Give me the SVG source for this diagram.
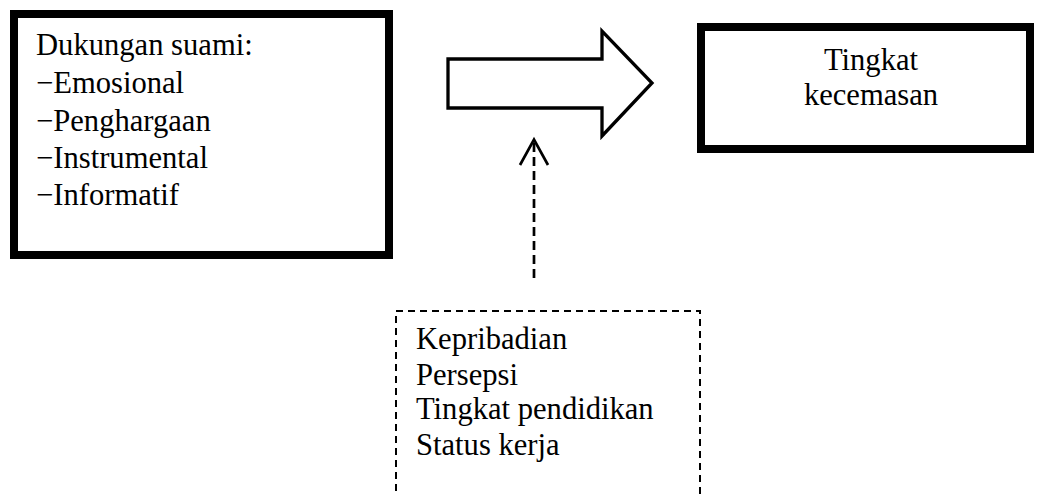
<svg xmlns="http://www.w3.org/2000/svg" width="1038" height="494" viewBox="0 0 1038 494">
<style>
.t{font-family:"Liberation Serif","Times New Roman",serif;font-size:30.6px;fill:#000}
.box{fill:#fff;stroke:#000;stroke-width:8}
.dbox{fill:none;stroke:#000;stroke-width:2;stroke-dasharray:7 5}
</style>
<rect width="1038" height="494" fill="#fff"/>
<g id="node-dukungan">
<rect class="box" x="14" y="14" width="375" height="241"/>
<text class="t" x="36" y="55">Dukungan suami:</text>
<text class="t" x="36" y="93">−Emosional</text>
<text class="t" x="36" y="131">−Penghargaan</text>
<text class="t" x="36" y="168">−Instrumental</text>
<text class="t" x="36" y="205">−Informatif</text>
</g>
<g id="node-kecemasan">
<rect class="box" x="701" y="27" width="329" height="122"/>
<text class="t" x="871" y="70" text-anchor="middle">Tingkat</text>
<text class="t" x="871" y="105" text-anchor="middle">kecemasan</text>
</g>
<g id="node-faktor">
<rect class="dbox" x="396" y="311" width="304" height="200"/>
<text class="t" x="416" y="349">Kepribadian</text>
<text class="t" x="416" y="385">Persepsi</text>
<text class="t" x="416" y="419">Tingkat pendidikan</text>
<text class="t" x="416" y="455">Status kerja</text>
</g>
<g id="connectors">
<polygon points="448,59 602,59 602,31 652,83 602,136 602,108 448,108" fill="#fff" stroke="#000" stroke-width="3.3" stroke-linejoin="miter"/>
<line x1="534" y1="143" x2="534" y2="281" stroke="#000" stroke-width="2.7" stroke-dasharray="9 5"/>
<polyline points="520,165 534,139.5 548,165" fill="none" stroke="#000" stroke-width="2.7"/>
</g>
</svg>
